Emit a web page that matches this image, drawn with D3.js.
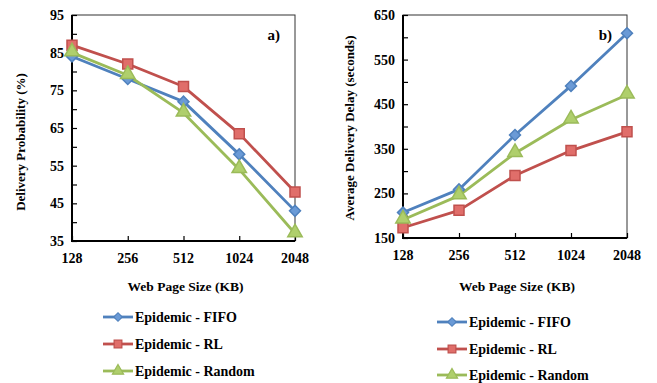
<!DOCTYPE html>
<html>
<head>
<meta charset="utf-8">
<script src="https://cdn.jsdelivr.net/npm/d3@7"></script>
<style>
  body { margin: 0; background: #fff; }
  svg { display: block; }
</style>
</head>
<body>
<div id="chart"></div>
<script>
var sizes = ["128", "256", "512", "1024", "2048"];
var seriesNames = ["Epidemic - FIFO", "Epidemic - RL", "Epidemic - Random"];

// panel a) delivery probability (%)
var probFifo = [84, 78, 72, 58, 43];
var probRl = [87, 82, 76, 63.5, 48];
var probRandom = [85, 79, 69, 54, 37];
var probTicks = [35, 45, 55, 65, 75, 85, 95];

// panel b) average delivery delay (seconds)
var delayFifo = [207, 259, 381, 491, 609];
var delayRl = [173, 212, 290, 346, 388];
var delayRandom = [191, 245, 340, 415, 471];
var delayTicks = [150, 250, 350, 450, 550, 650];

var w = 657, h = 383;
var colors = ["#4F81BD", "#C0504D", "#9BBB59"];
var fills = ["#6A9AD6", "#E06E6A", "#AFCF6C"];
var shapes = [d3.symbolSquare, d3.symbolSquare, d3.symbolTriangle];
var shapeSize = [60, 100, 90];
var shapeRot = [45, 0, 0];

var svg = d3.select("#chart").append("svg").attr("width", w).attr("height", h)
    .attr("font-family", "'Liberation Serif', 'Times New Roman', serif")
    .attr("font-weight", "bold");

function drawPanel(opt) {
    var x = d3.scalePoint().domain(sizes).range([opt.left, opt.right]).padding(0);
    var y = d3.scaleLinear().domain(opt.domain).range([opt.bottom, opt.top]);
    var g = svg.append("g");

    // frame
    g.append("rect")
        .attr("x", opt.left).attr("y", opt.top)
        .attr("width", opt.right - opt.left).attr("height", opt.bottom - opt.top)
        .attr("fill", "none").attr("stroke", "#333").attr("stroke-width", 1);

    // y axis with inward ticks (every half step)
    var minor = d3.range(opt.domain[0], opt.domain[1] + 0.01, opt.minorStep);
    var yAxis = d3.axisRight(y).tickValues(minor).tickSize(5).tickFormat("");
    g.append("g").attr("transform", "translate(" + opt.left + ",0)").call(yAxis)
        .call(function (s) {
            s.select(".domain").remove();
            s.selectAll("line").attr("stroke", "#000").attr("stroke-width", 1.2);
        });
    g.selectAll(".ylab").data(opt.ticks).enter().append("text")
        .attr("x", opt.left - 8).attr("y", function (d) { return y(d); })
        .attr("dy", "0.35em").attr("text-anchor", "end")
        .attr("font-size", 14).text(function (d) { return d; });

    // x axis with inward ticks
    var xAxis = d3.axisTop(x).tickSize(5).tickFormat("");
    g.append("g").attr("transform", "translate(0," + opt.bottom + ")").call(xAxis)
        .call(function (s) {
            s.select(".domain").remove();
            s.selectAll("line").attr("stroke", "#000").attr("stroke-width", 1.2);
        });
    g.selectAll(".xlab").data(sizes).enter().append("text")
        .attr("x", function (d) { return x(d); }).attr("y", opt.bottom + 22)
        .attr("text-anchor", "middle").attr("font-size", 14)
        .text(function (d) { return d; });

    // main axis lines
    g.append("line").attr("x1", opt.left).attr("x2", opt.left)
        .attr("y1", opt.top).attr("y2", opt.bottom + 1)
        .attr("stroke", "#000").attr("stroke-width", 2);
    g.append("line").attr("x1", opt.left - 1).attr("x2", opt.right)
        .attr("y1", opt.bottom).attr("y2", opt.bottom)
        .attr("stroke", "#000").attr("stroke-width", 2);

    // titles
    g.append("text")
        .attr("transform", "translate(" + opt.yTitleX + "," + opt.yTitleY + ") rotate(-90)")
        .attr("text-anchor", "middle").attr("font-size", 13).text(opt.yTitle);
    g.append("text").attr("x", (opt.left + opt.right) / 2 + 2).attr("y", 291)
        .attr("text-anchor", "middle").attr("font-size", 13.5).text("Web Page Size (KB)");
    g.append("text").attr("x", opt.right - 15).attr("y", 40)
        .attr("text-anchor", "end").attr("font-size", 15).text(opt.tag);

    // series
    var line = d3.line().x(function (d, i) { return x(sizes[i]); }).y(function (d) { return y(d); });
    opt.series.forEach(function (vals, k) {
        g.append("path").datum(vals).attr("d", line)
            .attr("fill", "none").attr("stroke", colors[k]).attr("stroke-width", 2.8)
            .attr("stroke-linejoin", "round");
    });
    opt.series.forEach(function (vals, k) {
        g.selectAll(".m" + k).data(vals).enter().append("path")
            .attr("transform", function (d, i) {
                var dy = k === 2 ? -1 : 0;
                return "translate(" + x(sizes[i]) + "," + (y(d) + dy) + ") rotate(" + shapeRot[k] + ")";
            })
            .attr("d", d3.symbol().type(shapes[k]).size(shapeSize[k]))
            .attr("fill", fills[k]).attr("stroke", colors[k]).attr("stroke-width", 1.5);
    });

    // legend
    opt.legendY.forEach(function (ly, k) {
        g.append("line").attr("x1", opt.legendX).attr("x2", opt.legendX + 30)
            .attr("y1", ly).attr("y2", ly)
            .attr("stroke", colors[k]).attr("stroke-width", 2.8);
        g.append("path")
            .attr("transform", "translate(" + (opt.legendX + 15) + "," + ly + ") rotate(" + shapeRot[k] + ")")
            .attr("d", d3.symbol().type(shapes[k]).size(shapeSize[k] * 0.6))
            .attr("fill", fills[k]).attr("stroke", colors[k]).attr("stroke-width", 1.2);
        g.append("text").attr("x", opt.legendX + 32).attr("y", ly)
            .attr("dy", "0.35em").attr("font-size", 14).text(seriesNames[k]);
    });
}

drawPanel({
    left: 72, right: 295, top: 15, bottom: 241,
    domain: [35, 95], minorStep: 5, ticks: probTicks,
    series: [probFifo, probRl, probRandom],
    yTitle: "Delivery Probability (%)", yTitleX: 25, yTitleY: 142,
    tag: "a)",
    legendX: 103, legendY: [317, 344, 371]
});

drawPanel({
    left: 403, right: 627, top: 15, bottom: 238,
    domain: [150, 650], minorStep: 50, ticks: delayTicks,
    series: [delayFifo, delayRl, delayRandom],
    yTitle: "Average Delivery Delay (seconds)", yTitleX: 354, yTitleY: 128,
    tag: "b)",
    legendX: 437, legendY: [322, 349, 375]
});
</script>
</body>
</html>
